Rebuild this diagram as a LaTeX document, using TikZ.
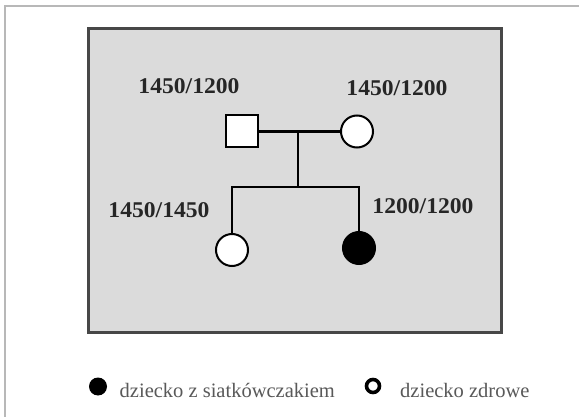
\documentclass[tikz,border=0pt]{standalone}
\usepackage{fontspec}
\setmainfont{Liberation Serif}
\newfontfamily\genofont[FakeStretch=1.05]{Liberation Serif}
\begin{document}
\begin{tikzpicture}[x=1pt,y=-1pt,
  person/.style={draw=black,line width=2pt,fill=white,minimum size=32pt,inner sep=0pt},
  male/.style={person,rectangle},
  female/.style={person,circle},
  affected/.style={fill=black},
  geno/.style={font=\genofont\fontsize{22.5}{25}\selectfont\bfseries,text=black!85,inner sep=0pt},
  legtext/.style={font=\fontsize{20.5}{22}\selectfont,text=black!65,anchor=base west,inner sep=0pt},
  link/.style={line width=2.6pt,black}]
\useasboundingbox (0,0) rectangle (579,417);
\fill[white] (0,0) rectangle (579,417);
% outer frame
\draw[line width=2pt,black!28] (5,417) -- (5,6) -- (579,6);
% grey panel
\draw[line width=3pt,black!72,fill=black!14] (88,29) rectangle (501,332);
% people
\node[male] (father) at (241.5,131.5) {};
\node[female] (mother) at (357,131.5) {};
\node[female] (child1) at (232,250) {};
\node[female,affected] (child2) at (359,248) {};
% connectors
\coordinate (m) at (298,131.5);
\coordinate (s) at (298,187);
\coordinate (s1) at (232,187);
\coordinate (s2) at (359,187);
\draw[link] (father.east) -- (mother.west);
\draw[link] (m) -- (s);
\draw[link] (child1.north) -- (s1) -- (s2) -- (child2.north);
% genotypes
\node[geno] (gf) at (189,86) {1450/1200};
\node[geno] (gm) at (397,88) {1450/1200};
\node[geno] (g1) at (159,210) {1450/1450};
\node[geno] (g2) at (423,206) {1200/1200};
% legend
\node[circle,fill=black,minimum size=18pt,inner sep=0pt] (ldot) at (98,386.5) {};
\node[legtext] (lt1) at (119.5,397) {dziecko z siatkówczakiem};
\node[circle,draw=black,line width=3.6pt,fill=white,minimum size=13pt,inner sep=0pt] (lcirc) at (373,386) {};
\node[legtext] (lt2) at (400,397) {dziecko zdrowe};
\end{tikzpicture}
\end{document}
